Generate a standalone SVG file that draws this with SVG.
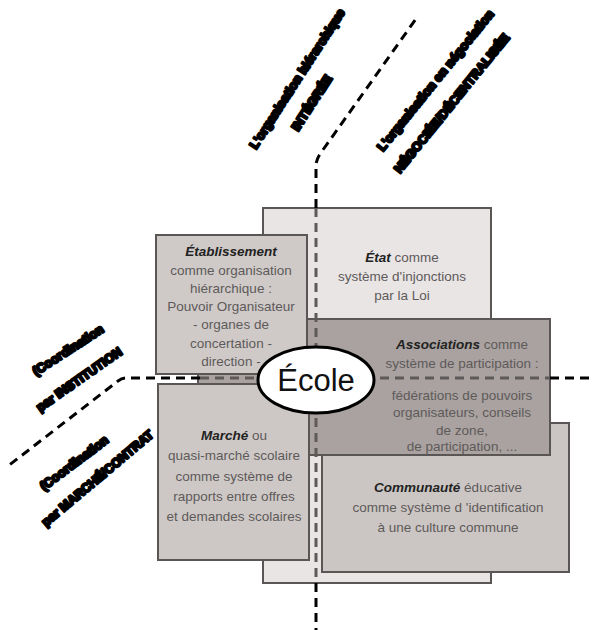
<svg xmlns="http://www.w3.org/2000/svg" width="592" height="630" viewBox="0 0 592 630">
<style>
.box{stroke:#5a5656;stroke-width:2}
.t{font-family:"Liberation Sans",Arial,sans-serif;font-size:13.5px;fill:#5e5a5a;text-anchor:middle}
.b{font-weight:bold;font-style:italic;fill:#222}
.ax{font-family:"Liberation Sans",Arial,sans-serif;font-size:12.5px;font-weight:bold;fill:#000;stroke:#000;stroke-width:2.4;stroke-linejoin:round}
.dk{fill:none;stroke:#000;stroke-width:3;stroke-dasharray:9 6}
.dg{fill:none;stroke:#5e5a5a;stroke-width:3;stroke-dasharray:9 6}
</style>
<rect width="592" height="630" fill="#fff"/>
<g id="etat">
<rect class="box" x="263" y="208" width="228" height="375" fill="#e9e5e5"/>
<text class="t" x="402" y="262"><tspan class="b">État</tspan> comme</text>
<text class="t" x="402" y="281">système d'injonctions</text>
<text class="t" x="402" y="300">par la Loi</text>
</g>
<g id="communaute">
<rect class="box" x="322" y="423" width="247" height="149" fill="#cbc6c3"/>
<text class="t" x="448" y="492"><tspan class="b">Communauté</tspan> éducative</text>
<text class="t" x="448" y="512">comme système d 'identification</text>
<text class="t" x="448" y="532">à une culture commune</text>
</g>
<g id="associations">
<rect class="box" x="198" y="319" width="352" height="136" fill="#a9a2a0"/>
<text class="t" x="462" y="349"><tspan class="b">Associations</tspan> comme</text>
<text class="t" x="462" y="368">système de participation :</text>
<text class="t" x="462" y="400">fédérations de pouvoirs</text>
<text class="t" x="462" y="417">organisateurs, conseils</text>
<text class="t" x="462" y="435">de zone,</text>
<text class="t" x="462" y="451">de participation, ...</text>
</g>
<g id="etablissement">
<rect class="box" x="156" y="235" width="151" height="139" fill="#cfcac8"/>
<text class="t" x="231" y="256"><tspan class="b">Établissement</tspan> </text>
<text class="t" x="231" y="275">comme organisation</text>
<text class="t" x="231" y="293">hiérarchique :</text>
<text class="t" x="231" y="311">Pouvoir Organisateur</text>
<text class="t" x="231" y="329">- organes de</text>
<text class="t" x="231" y="348">concertation -</text>
<text class="t" x="231" y="366">direction -</text>
</g>
<g id="marche">
<rect class="box" x="158" y="384" width="151" height="176" fill="#cdc8c5"/>
<text class="t" x="234" y="440"><tspan class="b">Marché</tspan> ou</text>
<text class="t" x="234" y="460">quasi-marché scolaire</text>
<text class="t" x="234" y="481">comme système de</text>
<text class="t" x="234" y="501">rapports entre offres</text>
<text class="t" x="234" y="521">et demandes scolaires</text>
</g>
<g id="axes">
<path class="dk" d="M316,208 L316,166 Q316,160 320,154 L418,16"/>
<path class="dg" d="M316,208 L316,583"/>
<path class="dk" d="M316,583 L316,630"/>
<path class="dk" d="M200,378 L126,378 Q122,378 118,381 L8,466"/>
<path class="dg" d="M200,378 L550,378"/>
<path class="dk" d="M550,378 L592,378"/>
</g>
<g id="ecole">
<ellipse cx="316" cy="380" rx="58" ry="33" fill="#fff" stroke="#000" stroke-width="3"/>
<text x="316" y="391" font-family="'Liberation Sans',Arial,sans-serif" font-size="31" text-anchor="middle" fill="#111">École</text>
</g>
<g id="labels">
<text class="ax" transform="translate(256,150) rotate(-57)">L'organisation hiérarchique</text>
<text class="ax" transform="translate(298,132) rotate(-57)">INTÉGRÉE</text>
<text class="ax" transform="translate(383,152) rotate(-51)">L'organisation en négociation</text>
<text class="ax" transform="translate(400,174) rotate(-51)">NÉGOCIÉE/DÉCENTRALISÉE</text>
<text class="ax" transform="translate(36,376) rotate(-33)">(Coordination</text>
<text class="ax" transform="translate(40,412) rotate(-35)">par INSTITUTION</text>
<text class="ax" transform="translate(44,491) rotate(-37)">(Coordination</text>
<text class="ax" transform="translate(46,527) rotate(-40)">par MARCHÉ/CONTRAT</text>
</g>
</svg>
